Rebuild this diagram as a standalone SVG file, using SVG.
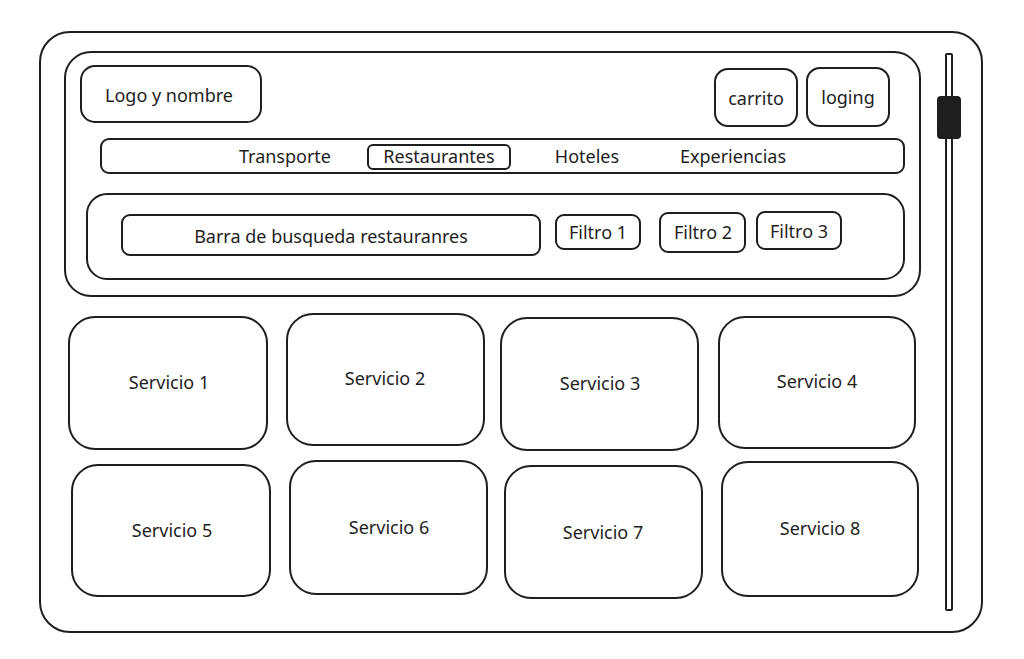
<svg xmlns="http://www.w3.org/2000/svg" width="1024" height="659" viewBox="0 0 1024 659">
<style>
.b{fill:none;stroke:#1e1e1e;stroke-width:2;stroke-linejoin:round}
.t{font-family:"Noto Sans","Liberation Sans",sans-serif;font-size:18px;fill:#1e1e1e;text-anchor:middle;dominant-baseline:central}
</style>
<rect width="1024" height="659" fill="#ffffff"/>
<g id="frame"><rect class="b" x="40" y="32" width="942" height="600" rx="30"/></g>
<g id="header"><rect class="b" x="65" y="52" width="855" height="244" rx="26"/></g>
<g id="logo"><rect class="b" x="81" y="66" width="180" height="56" rx="14"/><text class="t" x="169" y="95">Logo y nombre</text></g>
<g id="carrito"><rect class="b" x="715" y="69" width="82" height="57" rx="13"/><text class="t" x="756" y="98">carrito</text></g>
<g id="loging"><rect class="b" x="807" y="68" width="82" height="58" rx="13"/><text class="t" x="848" y="97">loging</text></g>
<g id="nav"><rect class="b" x="101" y="139" width="803" height="34" rx="8"/>
<text class="t" x="285" y="156">Transporte</text>
<rect class="b" x="368" y="145" width="142" height="24" rx="5"/>
<text class="t" x="439" y="156">Restaurantes</text>
<text class="t" x="587" y="156">Hoteles</text>
<text class="t" x="733" y="156">Experiencias</text></g>
<g id="search"><rect class="b" x="87" y="194" width="817" height="85" rx="20"/></g>
<g id="barra"><rect class="b" x="122" y="215" width="418" height="40" rx="8"/><text class="t" x="331" y="236">Barra de busqueda restauranres</text></g>
<g id="filtro1"><rect class="b" x="556" y="215" width="84" height="34" rx="8"/><text class="t" x="598" y="232">Filtro 1</text></g>
<g id="filtro2"><rect class="b" x="660" y="213" width="85" height="39" rx="8"/><text class="t" x="703" y="232">Filtro 2</text></g>
<g id="filtro3"><rect class="b" x="757" y="212" width="84" height="37" rx="8"/><text class="t" x="799" y="231">Filtro 3</text></g>
<g id="scrollbar"><rect class="b" x="946" y="54" width="6" height="556" rx="1"/><rect x="938" y="97" width="22" height="41" rx="3" fill="#1e1e1e" stroke="#1e1e1e" stroke-width="2"/></g>
<g id="s1"><rect class="b" x="69" y="317" width="198" height="132" rx="26"/><text class="t" x="169" y="382">Servicio 1</text></g>
<g id="s2"><rect class="b" x="287" y="314" width="197" height="131" rx="26"/><text class="t" x="385" y="378">Servicio 2</text></g>
<g id="s3"><rect class="b" x="501" y="318" width="197" height="132" rx="26"/><text class="t" x="600" y="383">Servicio 3</text></g>
<g id="s4"><rect class="b" x="719" y="317" width="196" height="131" rx="26"/><text class="t" x="817" y="381">Servicio 4</text></g>
<g id="s5"><rect class="b" x="72" y="465" width="198" height="131" rx="26"/><text class="t" x="172" y="530">Servicio 5</text></g>
<g id="s6"><rect class="b" x="290" y="461" width="197" height="133" rx="26"/><text class="t" x="389" y="527">Servicio 6</text></g>
<g id="s7"><rect class="b" x="505" y="466" width="197" height="132" rx="26"/><text class="t" x="603" y="532">Servicio 7</text></g>
<g id="s8"><rect class="b" x="722" y="462" width="196" height="134" rx="26"/><text class="t" x="820" y="528">Servicio 8</text></g>
<g id="connectors"></g>
</svg>
